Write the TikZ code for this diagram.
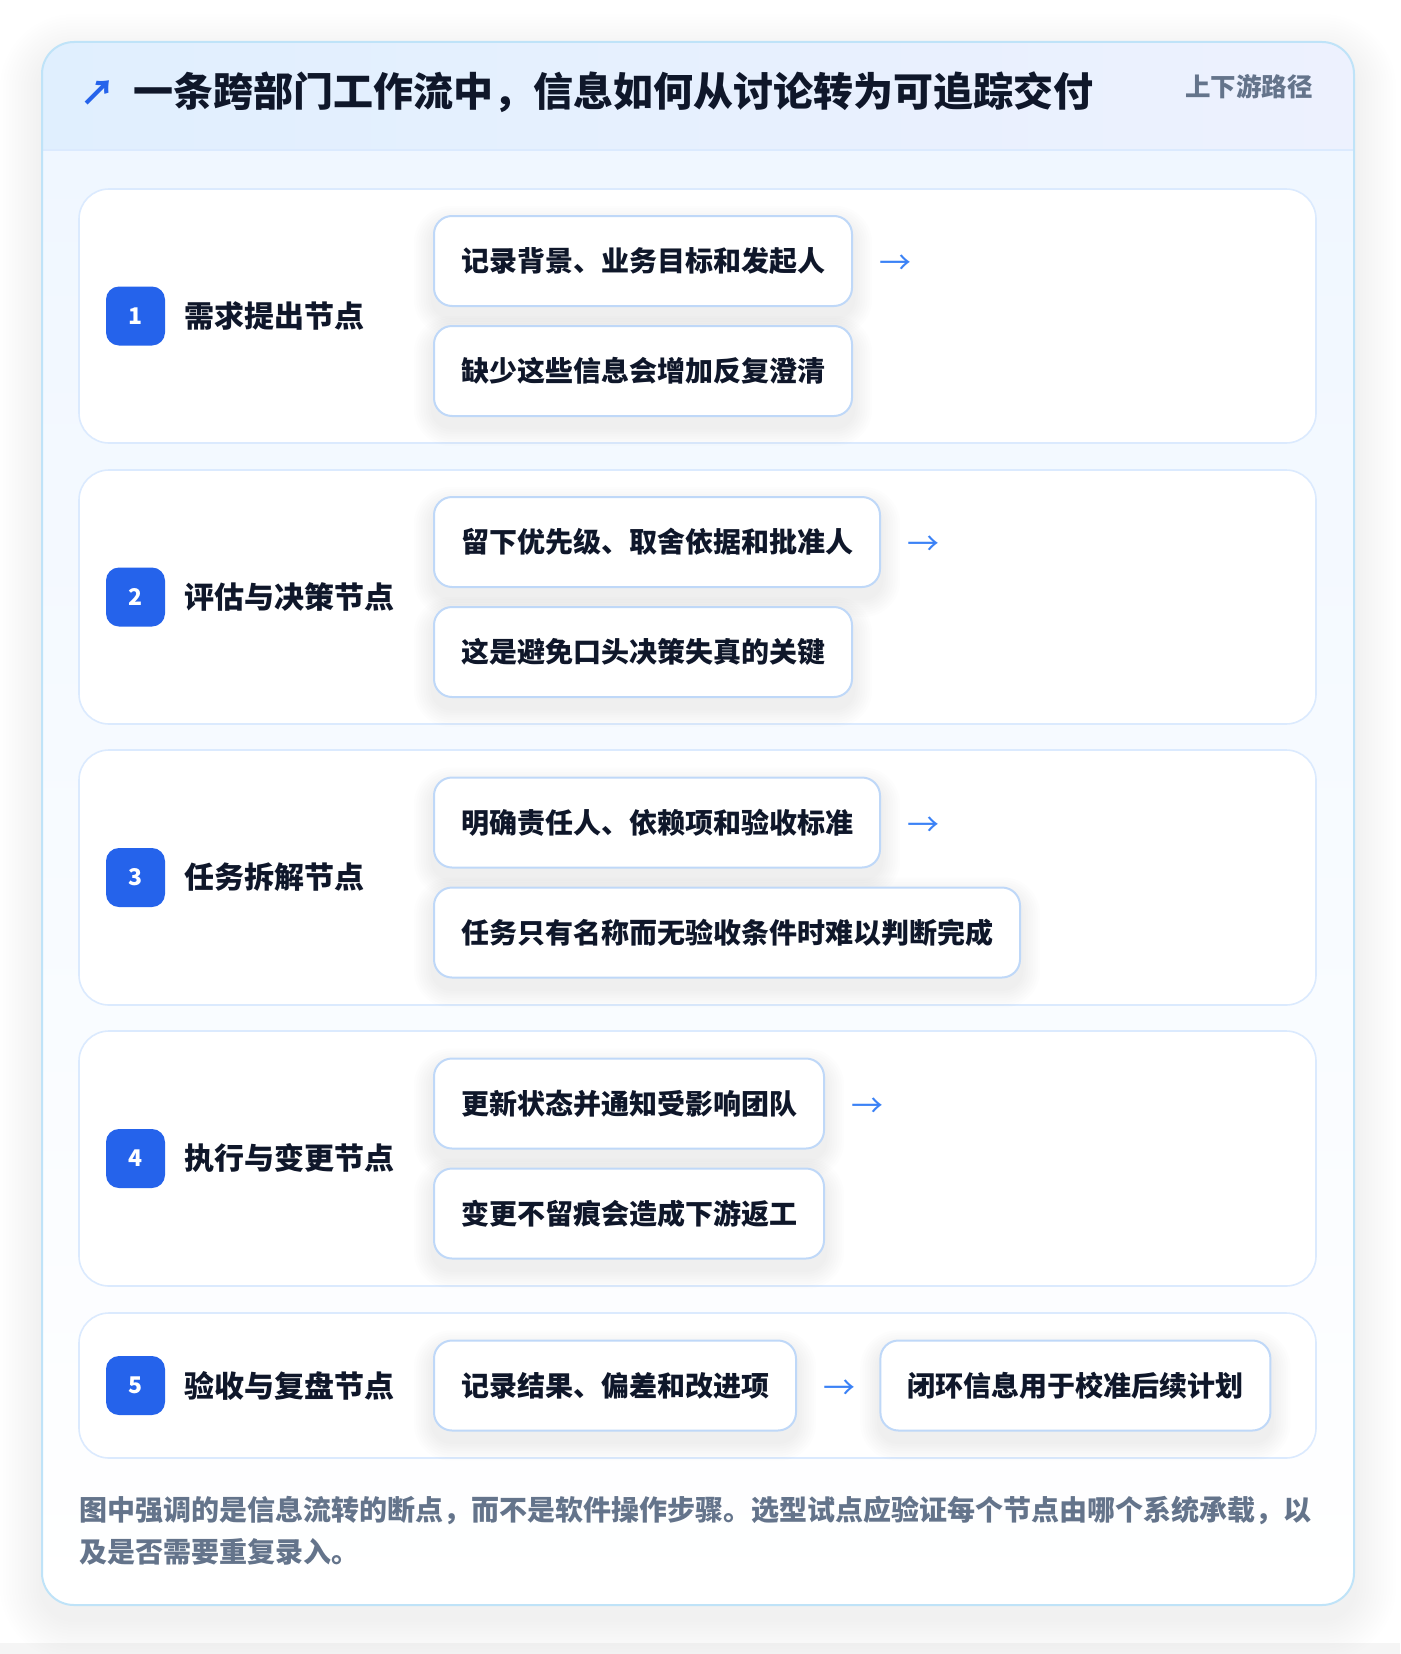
\documentclass[tikz,border=0pt]{standalone}
\usepackage{fontspec}
\setmainfont{Noto Sans CJK SC}
\usetikzlibrary{positioning,calc}
\pgfdeclarelayer{cards}
\pgfdeclarelayer{shadows}
\pgfsetlayers{cards,shadows,main}
\definecolor{ink}{HTML}{0F172A}
\definecolor{muted}{HTML}{64748B}
\definecolor{brand}{HTML}{2563EB}
\definecolor{arrowc}{HTML}{3B82F6}
\definecolor{cardline}{HTML}{BFE3F8}
\definecolor{rowline}{HTML}{DBEAFE}
\definecolor{boxline}{HTML}{BFD8F8}
\definecolor{hdrL}{HTML}{E0EFFE}
\definecolor{hdrR}{HTML}{EDF1FE}
\definecolor{bodyT}{HTML}{F0F7FF}
\tikzset{
  rowcard/.style={draw=rowline, line width=1.6pt, fill=white, rounded corners=30pt},
  subbox/.style={draw=boxline, line width=2pt, fill=white, rounded corners=18pt,
    minimum height=90pt, inner xsep=27pt, inner ysep=0pt, anchor=west,
    font=\fontsize{28}{32}\selectfont\bfseries, text=ink},
  badge/.style={fill=brand, rounded corners=13pt, minimum width=59pt, minimum height=59pt,
    inner sep=0pt, text=white, font=\fontsize{23}{26}\selectfont\bfseries},
  rowlabel/.style={anchor=west, inner sep=0pt, text=ink, font=\fontsize{30}{34}\selectfont\bfseries},
  flowarrow/.style={anchor=west, inner sep=0pt, text=arrowc, font=\fontsize{32}{32}\selectfont}
}
\newcommand{\boxshadow}[1]{%
  \begin{pgfonlayer}{shadows}
  \foreach \i in {1,...,8}{
    \pgfmathsetmacro{\rr}{18+\i*2.4}
    \fill[black, opacity=0.007, rounded corners=\rr pt]
      ($(#1.north west)+(-\i*2.4,-\i*2.4+10)$) rectangle ($(#1.south east)+(\i*2.4,\i*2.4+10)$);
  }
  \end{pgfonlayer}}
\begin{document}
\begin{tikzpicture}[x=1pt,y=-1pt]
\useasboundingbox (0,0) rectangle (1400,1654);
\begin{pgfonlayer}{cards}
\fill[white] (0,0) rectangle (1400,1654);
\fill[black!4] (0,1643) rectangle (1400,1654);
% outer card shadow
\foreach \i in {1,...,14}{
  \pgfmathsetmacro{\rr}{32+\i*3}
  \fill[black, opacity=0.0045, rounded corners=\rr pt] (42-\i*3,42-\i*3+14) rectangle (1354+\i*3,1605+\i*3+14);
}
% outer card
\fill[white, rounded corners=32pt] (42,42) rectangle (1354,1605);
\begin{scope}
\clip[rounded corners=32pt] (42,42) rectangle (1354,1605);
\shade[top color=bodyT, bottom color=white] (42,150) rectangle (1354,1605);
\shade[left color=hdrL, right color=hdrR] (42,42) rectangle (1354,150);
\draw[rowline, line width=1.5pt] (42,150) -- (1354,150);
\end{scope}
\draw[cardline, line width=2pt, rounded corners=32pt] (42,42) rectangle (1354,1605);
% row cards
\draw[rowcard] (79,189) rectangle (1316,443);
\draw[rowcard] (79,470) rectangle (1316,724);
\draw[rowcard] (79,750) rectangle (1316,1005);
\draw[rowcard] (79,1031) rectangle (1316,1286);
\draw[rowcard] (79,1313) rectangle (1316,1458);
\end{pgfonlayer}
% header
\node[anchor=center, inner sep=0pt, text=brand, font=\fontsize{35}{36}\selectfont\bfseries] (hdrarrow) at (98,93) {↗};
\node[anchor=west, inner sep=0pt, text=ink, font=\fontsize{40}{44}\selectfont\bfseries] (title) at (133,92) {一条跨部门工作流中，信息如何从讨论转为可追踪交付};
\node[anchor=east, inner sep=0pt, text=muted, font=\fontsize{25.5}{28}\selectfont\bfseries] (tag) at (1313,87) {上下游路径};
% row 1
\node[badge] (b1) at (135.5,316) {1};
\node[rowlabel] (l1) at (184,316) {需求提出节点};
\node[subbox] (r1a) at (433,261) {记录背景、业务目标和发起人};
\node[subbox] (r1b) at (433,371) {缺少这些信息会增加反复澄清};
\node[flowarrow] (a1) at ($(r1a.east)+(26,4)$) {→};
% row 2
\node[badge] (b2) at (135.5,597) {2};
\node[rowlabel] (l2) at (184,597) {评估与决策节点};
\node[subbox] (r2a) at (433,542) {留下优先级、取舍依据和批准人};
\node[subbox] (r2b) at (433,652) {这是避免口头决策失真的关键};
\node[flowarrow] (a2) at ($(r2a.east)+(26,4)$) {→};
% row 3
\node[badge] (b3) at (135.5,877.5) {3};
\node[rowlabel] (l3) at (184,877.5) {任务拆解节点};
\node[subbox] (r3a) at (433,822.5) {明确责任人、依赖项和验收标准};
\node[subbox] (r3b) at (433,932.5) {任务只有名称而无验收条件时难以判断完成};
\node[flowarrow] (a3) at ($(r3a.east)+(26,4)$) {→};
% row 4
\node[badge] (b4) at (135.5,1158.5) {4};
\node[rowlabel] (l4) at (184,1158.5) {执行与变更节点};
\node[subbox] (r4a) at (433,1103.5) {更新状态并通知受影响团队};
\node[subbox] (r4b) at (433,1213.5) {变更不留痕会造成下游返工};
\node[flowarrow] (a4) at ($(r4a.east)+(26,4)$) {→};
% row 5
\node[badge] (b5) at (135.5,1385.5) {5};
\node[rowlabel] (l5) at (184,1385.5) {验收与复盘节点};
\node[subbox] (r5a) at (433,1385.5) {记录结果、偏差和改进项};
\node[flowarrow] (a5) at ($(r5a.east)+(26,4)$) {→};
\node[subbox] (r5b) at ($(a5.east)+(24,-4)$) {闭环信息用于校准后续计划};
\foreach \n in {r1a,r1b,r2a,r2b,r3a,r3b,r4a,r4b,r5a,r5b}{\boxshadow{\n}}
% footer
\node[anchor=north west, inner sep=0pt, align=left, text=muted, font=\fontsize{28}{42}\selectfont\bfseries] (foot) at (79,1496) {图中强调的是信息流转的断点，而不是软件操作步骤。选型试点应验证每个节点由哪个系统承载，以\\及是否需要重复录入。};
\end{tikzpicture}
\end{document}
